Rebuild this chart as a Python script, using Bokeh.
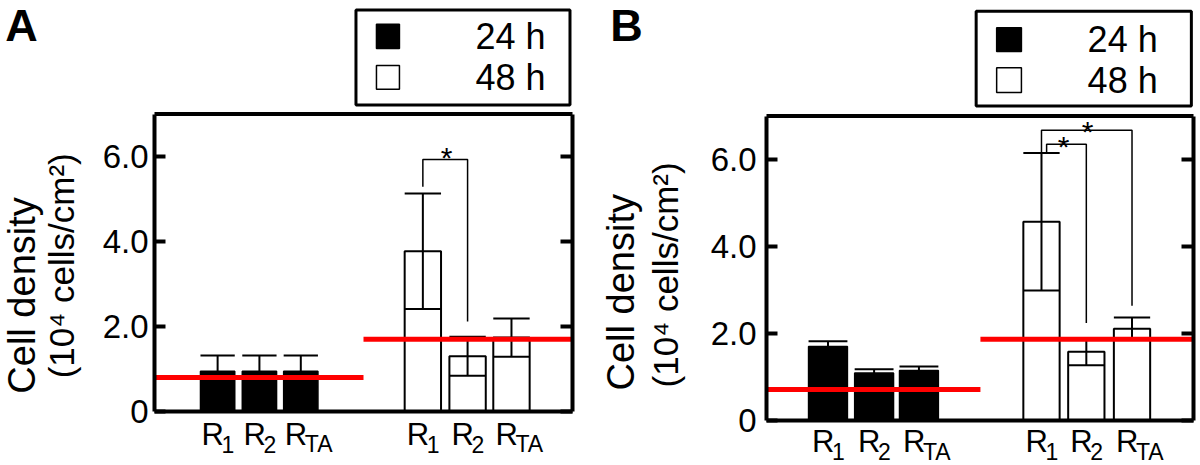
from bokeh.plotting import figure
from bokeh.models import Range1d, LinearAxis, FixedTicker
from bokeh.layouts import row
from bokeh.embed import file_html
from bokeh.resources import INLINE
from bokeh.core.properties import value
import math

FONT = "Liberation Sans"

# ---------------- data ----------------
groups = ["R1", "R2", "RTA"]
group_subs = ["1", "2", "TA"]
legend_labels = ["24 h", "48 h"]
y_ticks = [0, 2, 4, 6]
y_tick_labels = ["0", "2.0", "4.0", "6.0"]
y_label_1 = "Cell density"
y_label_2 = "(10\u2074 cells/cm\u00b2)"

# Panel A
a_24_mean = [0.95, 0.95, 0.95]
a_24_sd = [0.37, 0.37, 0.37]
a_48_mean = [3.77, 1.30, 1.74]
a_48_sd = [1.36, 0.46, 0.45]
a_ref = [0.80, 1.70]            # red reference lines (24 h, 48 h)
a_sig_pairs = [(0, 1)]          # significant pairs within 48 h
a_sig_top = [5.93]
a_sig_left = [5.29]
a_sig_right = [2.12]

# Panel B
b_24_mean = [1.70, 1.09, 1.15]
b_24_sd = [0.12, 0.09, 0.09]
b_48_mean = [4.57, 1.58, 2.11]
b_48_sd = [1.58, 0.31, 0.26]
b_ref = [0.71, 1.87]
b_sig_pairs = [(0, 1), (0, 2)]
b_sig_top = [6.35, 6.67]
b_sig_left = [6.17, 6.17]
b_sig_right = [2.24, 2.64]

W, H = 600, 465


def make_panel(letter, m24, s24, m48, s48, refs, pairs, sig_top, sig_left,
               sig_right, g):
    sx, sy = g["sx"], g["sy"]
    x0 = -(g["fl"] - g["ox"]) / sx
    x1 = (g["ox"] + W - g["fl"]) / sx
    y1 = g["fb"] / sy
    y0 = -(H - g["fb"]) / sy
    p = figure(width=W, height=H, x_range=Range1d(x0, x1),
               y_range=Range1d(y0, y1), output_backend="svg",
               toolbar_location=None, min_border=0,
               min_border_left=0, min_border_right=0,
               min_border_top=0, min_border_bottom=0)
    p.outline_line_color = None
    p.xgrid.visible = False
    p.ygrid.visible = False
    p.background_fill_color = "white"
    p.border_fill_color = "white"

    # left axis (fixed at x = 0)
    ya = p.yaxis[0]
    ya.fixed_location = 0
    ya.ticker = FixedTicker(ticks=y_ticks)
    ya.major_label_overrides = dict(zip(y_ticks, y_tick_labels))
    ya.bounds = (0, 7)
    ya.axis_line_width = 4
    ya.major_tick_line_width = 4
    ya.major_tick_in = 11
    ya.major_tick_out = 0
    ya.minor_tick_line_color = None
    ya.major_label_standoff = g["standoff"]
    ya.major_label_text_font = FONT
    ya.major_label_text_font_size = "33px"
    ya.major_label_text_color = "black"

    # right axis (fixed at x = 10)
    ra = LinearAxis(ticker=FixedTicker(ticks=y_ticks), bounds=(0, 7),
                    fixed_location=10)
    ra.major_label_overrides = {t: "" for t in y_ticks}
    ra.axis_line_width = 4
    ra.major_tick_line_width = 4
    ra.major_tick_in = 12
    ra.major_tick_out = 0
    ra.minor_tick_line_color = None
    ra.major_label_standoff = 0
    ra.major_label_text_font_size = "1px"
    p.add_layout(ra, "right")

    # bottom axis (fixed at y = 0)
    xa = p.xaxis[0]
    xa.fixed_location = 0
    xa.bounds = (0, 10)
    xa.ticker = FixedTicker(ticks=[])
    xa.axis_line_width = 4
    xa.minor_tick_line_color = None
    xa.major_tick_line_color = None

    # top border of the box
    p.segment(x0=[0], x1=[10], y0=[7], y1=[7], line_color="black",
              line_width=4)

    pos24, pos48 = g["pos24"], g["pos48"]
    w24, w48 = g["w24"], g["w48"]

    # bars
    p.vbar(x=pos24, top=m24, bottom=0, width=w24, fill_color="black",
           line_color="black", line_width=1.5)
    p.vbar(x=pos48, top=m48, bottom=0, width=w48, fill_color="white",
           line_color="black", line_width=2)

    # error bars
    for pos, m, s, w in ((pos24, m24, s24, w24), (pos48, m48, s48, w48)):
        lo = [a - b for a, b in zip(m, s)]
        hi = [a + b for a, b in zip(m, s)]
        p.segment(x0=pos, x1=pos, y0=lo, y1=hi, line_color="black",
                  line_width=2)
        xl = [x - w / 2 for x in pos]
        xr = [x + w / 2 for x in pos]
        p.segment(x0=xl, x1=xr, y0=hi, y1=hi, line_color="black",
                  line_width=2)
        p.segment(x0=xl, x1=xr, y0=lo, y1=lo, line_color="black",
                  line_width=2)

    # significance brackets
    for k, (i, j) in enumerate(pairs):
        xl = pos48[i] + g["sig_shift"][k]
        xr = pos48[j]
        p.line(x=[xl, xl, xr, xr],
               y=[sig_left[k], sig_top[k], sig_top[k], sig_right[k]],
               line_color="black", line_width=1.5)
        p.text(x=[g["star_x"][k]], y=[sig_top[k] - g["star_dy"][k]],
               text=["*"], text_font=value(FONT), text_font_size="30px",
               text_align="center", text_baseline="alphabetic",
               text_color="black")

    # red reference lines
    split = g["split"]
    p.segment(x0=[0, split], x1=[split, 10], y0=refs, y1=refs,
              line_color="#ff0000", line_width=5)

    # legend box
    lb = g["leg"]
    p.quad(left=[lb[0]], right=[lb[1]], bottom=[lb[2]], top=[lb[3]],
           fill_color="white", line_color="black", line_width=3)
    sq = g["sq"]
    p.quad(left=[sq[0], sq[0]], right=[sq[1], sq[1]],
           bottom=[sq[2], sq[4]], top=[sq[3], sq[5]],
           fill_color=["black", "white"], line_color="black", line_width=1.5)
    p.text(x=[g["leg_tx"]] * 2, y=g["leg_ty"], text=legend_labels,
           text_font=value(FONT), text_font_size="36px",
           text_baseline="middle", text_align="left", text_color="black")

    # category labels with subscripts
    allpos = list(pos24) + list(pos48)
    n = len(allpos)
    p.text(x=allpos, y=[g["lab_y"]] * n, text=["R"] * n, x_offset=-16,
           text_font=value(FONT), text_font_size="31px",
           text_baseline="middle", text_align="left", text_color="black")
    p.text(x=allpos, y=[g["sub_y"]] * n, text=group_subs * 2, x_offset=4,
           text_font=value(FONT), text_font_size="23px",
           text_baseline="middle", text_align="left", text_color="black")

    # y-axis title (two lines, rotated)
    p.text(x=[g["yl1"][0]], y=[g["yl1"][1]], text=[y_label_1],
           angle=math.pi / 2, text_font=value(FONT), text_font_size="38px",
           text_baseline="middle", text_align="left", text_color="black")
    p.text(x=[g["yl2"][0]], y=[g["yl2"][1]], text=[y_label_2],
           angle=math.pi / 2, text_font=value(FONT), text_font_size="35px",
           text_baseline="middle", text_align="left", text_color="black")

    # panel letter
    p.text(x=[g["letter"][0]], y=[g["letter"][1]], text=[letter],
           text_font=value(FONT), text_font_size="45px",
           text_font_style="bold", text_baseline="middle",
           text_align="left", text_color="black")
    return p


geo_a = dict(ox=0, fl=154, fb=411, sx=41.8, sy=42.5, standoff=6,
             pos24=[1.51, 2.51, 3.50], pos48=[6.42, 7.49, 8.54],
             w24=0.82, w48=0.87, split=5.0,
             sig_shift=[0.0], star_x=[6.99], star_dy=[-0.04],
             leg=[4.82, 9.94, 7.21, 9.45],
             sq=[5.31, 5.86, 8.54, 9.11, 7.58, 8.14],
             leg_tx=7.68, leg_ty=[8.82, 7.86],
             lab_y=-0.53, sub_y=-0.765,
             yl1=(-3.18, 0.42), yl2=(-2.22, 0.78),
             letter=(-3.57, 9.08))

geo_b = dict(ox=600, fl=766, fb=420, sx=42.7, sy=43.5, standoff=10,
             pos24=[1.44, 2.52, 3.57], pos48=[6.44, 7.49, 8.56],
             w24=0.91, w48=0.85, split=5.01,
             sig_shift=[0.12, 0.0], star_x=[6.96, 7.52],
             star_dy=[0.05, 0.03],
             leg=[4.91, 9.95, 7.23, 9.41],
             sq=[5.39, 5.97, 8.48, 9.03, 7.54, 8.11],
             leg_tx=7.52, leg_ty=[8.76, 7.82],
             lab_y=-0.483, sub_y=-0.713,
             yl1=(-3.40, 0.69), yl2=(-2.37, 0.76),
             letter=(-3.66, 9.08))

pa = make_panel("A", a_24_mean, a_24_sd, a_48_mean, a_48_sd, a_ref,
                a_sig_pairs, a_sig_top, a_sig_left, a_sig_right, geo_a)
pb = make_panel("B", b_24_mean, b_24_sd, b_48_mean, b_48_sd, b_ref,
                b_sig_pairs, b_sig_top, b_sig_left, b_sig_right, geo_b)

layout = row(pa, pb, spacing=0)
open("out.html", "w").write(file_html(layout, INLINE))
